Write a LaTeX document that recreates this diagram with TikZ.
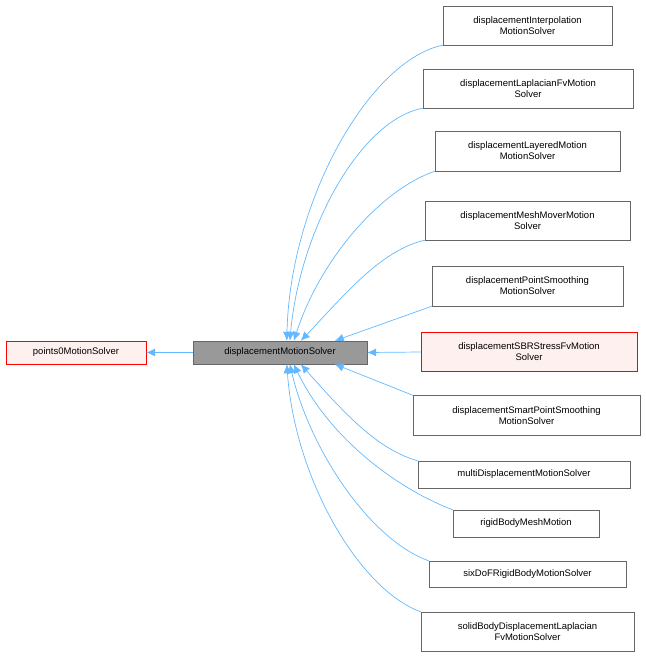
\documentclass[tikz,border=0pt]{standalone}
\usepackage{fontspec}
\setmainfont{Liberation Sans}
\usetikzlibrary{arrows.meta}
\definecolor{edge}{HTML}{63B8FF}
\begin{document}
\begin{tikzpicture}[x=1pt,y=-1pt,
  box/.style={draw=black!60,fill=white,inner sep=0pt,font=\fontsize{9.5}{11}\selectfont,align=center},
  red/.style={draw=red,fill=red!6},
  base/.style={draw=black!60,fill=black!40},
  inh/.style={draw=edge,line width=0.7pt,{Latex[length=9pt,width=8pt,fill=edge]}-}]
\useasboundingbox (0,0) rectangle (646,657);
\newcommand\bx[6]{\node[box,#6,minimum width=#4-#2,minimum height=#5-#3] (#1) at ({(#2+#4)/2},{(#3+#5)/2}) {};}
\node[box,red,minimum width=140,minimum height=23] (p0) at (76,352.5) {points0MotionSolver};
\node[box,base,minimum width=174,minimum height=23] (d) at (280,352.5) {displacementMotionSolver};
\node[box,minimum width=169,minimum height=39] (c1) at (527.5,25.5) {displacementInterpolation\\MotionSolver};
\node[box,minimum width=210,minimum height=39] (c2) at (528,88.5) {displacementLaplacianFvMotion\\Solver};
\node[box,minimum width=185,minimum height=40] (c3) at (527.5,151) {displacementLayeredMotion\\MotionSolver};
\node[box,minimum width=205,minimum height=39] (c4) at (527.5,220.5) {displacementMeshMoverMotion\\Solver};
\node[box,minimum width=191,minimum height=40] (c5) at (527.5,286) {displacementPointSmoothing\\MotionSolver};
\node[box,red,minimum width=216,minimum height=39] (c6) at (529,352) {displacementSBRStressFvMotion\\Solver};
\node[box,minimum width=227,minimum height=40] (c7) at (526.5,415.5) {displacementSmartPointSmoothing\\MotionSolver};
\node[box,minimum width=212,minimum height=27] (c8) at (524,474.5) {multiDisplacementMotionSolver};
\node[box,minimum width=146,minimum height=27] (c9) at (526,523.5) {rigidBodyMeshMotion};
\node[box,minimum width=197,minimum height=26] (c10) at (527.5,574) {sixDoFRigidBodyMotionSolver};
\node[box,minimum width=213,minimum height=39] (c11) at (527.5,631.5) {solidBodyDisplacementLaplacian\\FvMotionSolver};
\draw[inh] (p0.east) -- (d.west);
\draw[inh] (d.north west)++(94,0) .. controls (290,200) and (370,60) .. (c1.south west);
\draw[inh] (d.north west)++(97,0) .. controls (300,230) and (360,120) .. (c2.south west);
\draw[inh] (d.north west)++(101,0) .. controls (320,260) and (380,190) .. (c3.south west);
\draw[inh] (d.north west)++(108,0) .. controls (340,300) and (380,250) .. (c4.south west);
\draw[inh] (d.north west)++(142,0) -- (c5.south west);
\draw[inh] (d.east) -- (c6.west);
\draw[inh] (d.south west)++(142,0) -- (c7.north west);
\draw[inh] (d.south west)++(108,0) .. controls (350,420) and (380,450) .. (c8.north west);
\draw[inh] (d.south west)++(101,0) .. controls (330,440) and (400,490) .. (c9.north west);
\draw[inh] (d.south west)++(97,0) .. controls (310,450) and (370,540) .. (c10.north west);
\draw[inh] (d.south west)++(94,0) .. controls (295,480) and (360,590) .. (c11.north west);
\end{tikzpicture}
\end{document}
